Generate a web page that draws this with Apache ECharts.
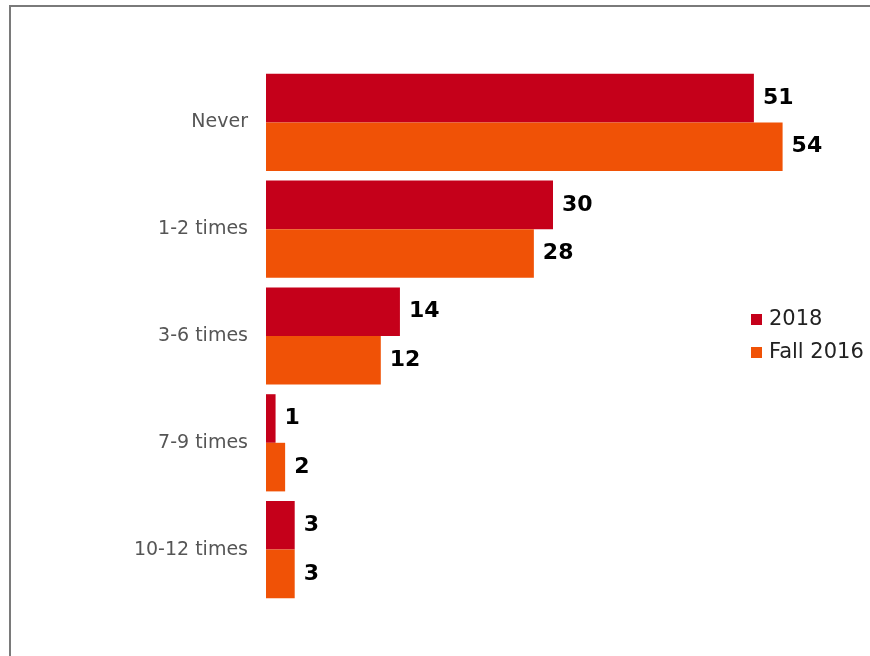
<!DOCTYPE html>
<html>
<head>
<meta charset="utf-8">
<script src="https://cdn.jsdelivr.net/npm/echarts@6/dist/echarts.min.js"></script>
<style>
  html, body { margin: 0; padding: 0; background: #fff; }
  #chart { width: 870px; height: 656px; }
</style>
</head>
<body>
<div id="chart"></div>
<script>
// Frequency categories and responses per survey wave
const categories = ['Never', '1-2 times', '3-6 times', '7-9 times', '10-12 times'];
const values2018 = [51, 30, 14, 1, 3];
const valuesFall2016 = [54, 28, 12, 2, 3];
const seriesNames = ['2018', 'Fall 2016'];

const colors = ['#c5001a', '#f05206'];
const font = 'Verdana, "DejaVu Sans", sans-serif';

const chart = echarts.init(document.getElementById('chart'));

const valueLabel = {
  show: true,
  position: 'right',
  distance: 9,
  color: '#000',
  fontWeight: 'bold',
  fontSize: 22,
  fontFamily: font
};

chart.setOption({
  animation: false,
  color: colors,
  graphic: [{
    type: 'rect',
    shape: { x: 10, y: 6, width: 900, height: 700 },
    style: { fill: 'none', stroke: '#7a7a7a', lineWidth: 2 },
    silent: true
  }],
  legend: {
    orient: 'vertical',
    left: 746,
    top: 302,
    padding: 5,
    itemWidth: 11,
    itemHeight: 11,
    itemGap: 8,
    icon: 'rect',
    textStyle: { fontSize: 21, lineHeight: 25, color: '#222', fontFamily: font, padding: [0, 0, 0, 2] },
    data: seriesNames
  },
  grid: { left: 266, right: 30, top: 69, bottom: 53, containLabel: false },
  xAxis: {
    type: 'value',
    min: 0,
    max: 60,
    show: false
  },
  yAxis: {
    type: 'category',
    inverse: true,
    data: categories,
    axisLine: { show: false },
    axisTick: { show: false },
    axisLabel: { color: '#555', fontSize: 19, margin: 18, fontFamily: font }
  },
  series: [
    {
      name: seriesNames[0],
      type: 'bar',
      data: values2018,
      barGap: '0%',
      barCategoryGap: '9%',
      label: valueLabel
    },
    {
      name: seriesNames[1],
      type: 'bar',
      data: valuesFall2016,
      barGap: '0%',
      barCategoryGap: '9%',
      label: valueLabel
    }
  ]
});
</script>
</body>
</html>
